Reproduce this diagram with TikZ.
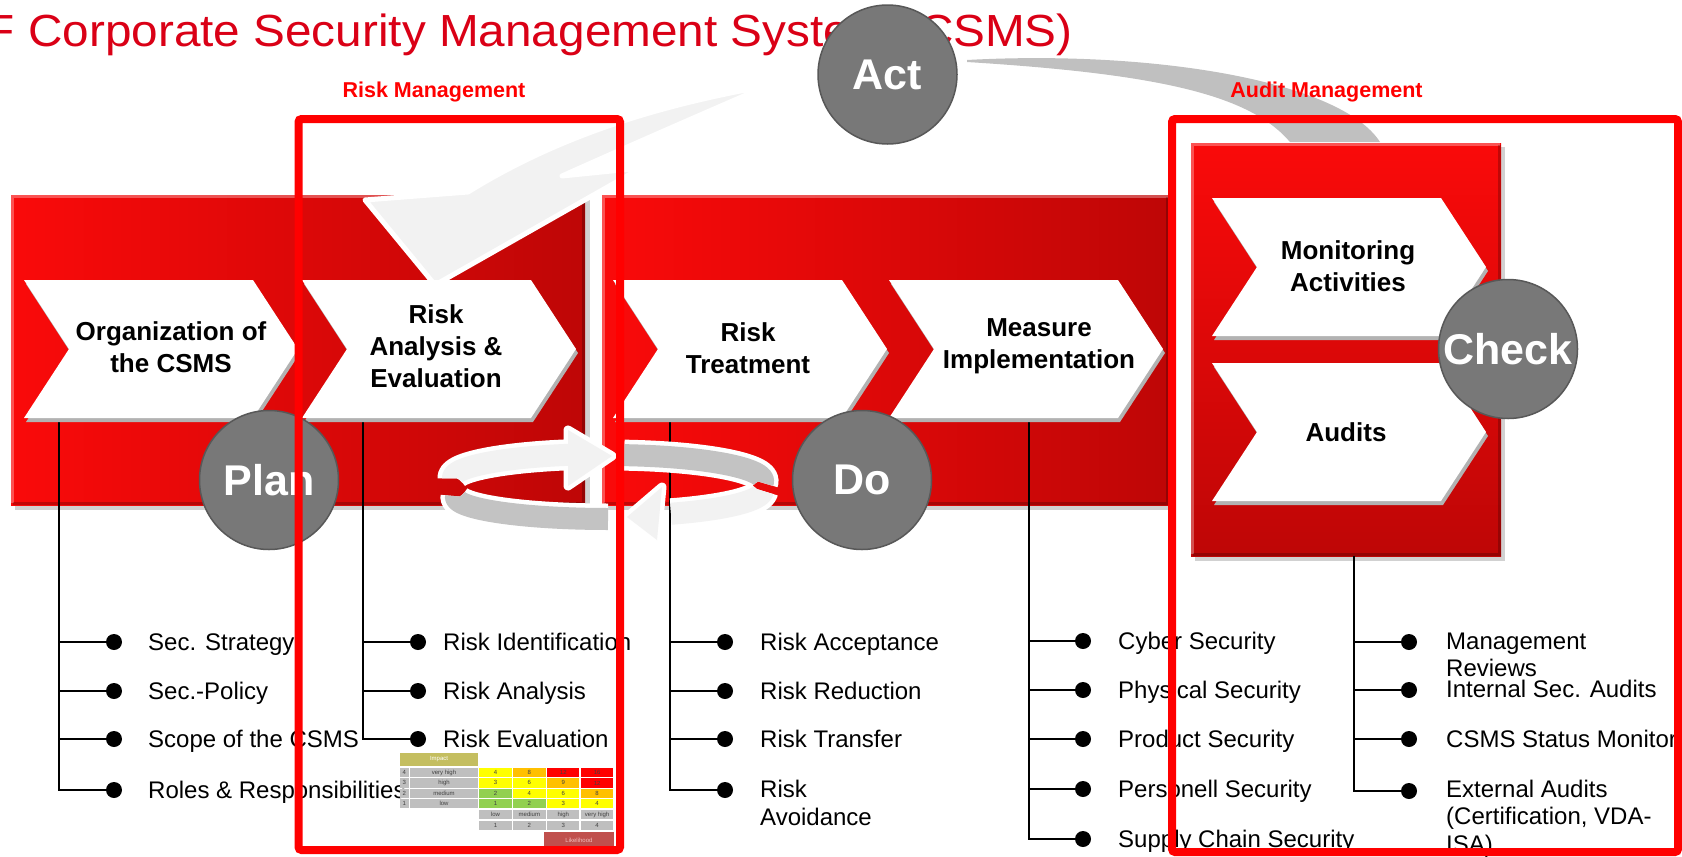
\documentclass[tikz,border=0pt]{standalone}
\usepackage{fontspec}
\setmainfont{Liberation Sans}
\definecolor{bandL}{RGB}{250,10,10}
\definecolor{bandR}{RGB}{190,6,6}
\definecolor{titlered}{RGB}{218,0,22}
\definecolor{circgray}{RGB}{120,120,120}
\definecolor{circdark}{RGB}{88,88,88}
\definecolor{ringgray}{RGB}{195,195,195}
\definecolor{ringlight}{RGB}{242,242,242}
\definecolor{arcgray}{RGB}{192,192,192}
\definecolor{mY}{RGB}{255,255,0}
\definecolor{mO}{RGB}{255,192,0}
\definecolor{mR}{RGB}{255,0,0}
\definecolor{mG}{RGB}{146,208,80}
\definecolor{mGr}{RGB}{191,191,191}
\definecolor{impol}{RGB}{196,190,96}
\definecolor{likered}{RGB}{192,80,77}
\definecolor{liketxt}{RGB}{240,190,190}
\begin{document}
\begin{tikzpicture}[x=1pt,y=-1pt,
  listtxt/.style={anchor=base west, inner sep=0pt, font=\fontsize{24}{26}\selectfont},
  dotn/.style={circle, fill=black, inner sep=0pt, minimum size=16pt},
  conn/.style={line width=2.8pt, black},
  chevtxt/.style={align=center, inner sep=0pt, font=\bfseries\fontsize{26}{32}\selectfont},
  pdca/.style={circle, fill=circgray, draw=circdark, line width=1.5pt, text=white, inner sep=0pt, minimum size=139pt, font=\bfseries\fontsize{43}{50}\selectfont},
  mgmtbox/.style={draw=red, line width=8pt, rounded corners=3pt},
  mgmtlbl/.style={anchor=base, inner sep=0pt, text=red, font=\bfseries\fontsize{21.5}{24}\selectfont},
  mtx/.style={inner sep=0pt, font=\fontsize{6}{7}\selectfont, text=black!75},
  bandshadow/.style={fill=black, opacity=0.18},
  bevelhi/.style={draw=white, opacity=0.3, line width=3pt},
  bevello/.style={draw=black, opacity=0.22, line width=3pt},
  chev/.pic={
    \fill[black!30] (2,4) -- (231,4) -- (276,73) -- (231,142) -- (2,142) -- (47,73) -- cycle;
    \fill[white] (0,0) -- (229,0) -- (274,69) -- (229,138) -- (0,138) -- (45,69) -- cycle;
  }
]
\useasboundingbox (0,0) rectangle (1682,857);
\fill[white] (0,0) rectangle (1682,857);

% big grey arc towards Check
\fill[arcgray] (967,60) .. controls (1150,50) and (1340,80) .. (1380,142) -- (1290,142) .. controls (1250,95) and (1160,74) .. (967,62) -- cycle;

% red bands
\fill[bandshadow] (15,199) rectangle (590,510);
\shade[left color=bandL, right color=bandR] (11,195) rectangle (585,505);
\draw[bevelhi] (12.5,503) -- (12.5,196.5) -- (583.5,196.5);
\draw[bevello] (583.5,196.5) -- (583.5,503.5) -- (12.5,503.5);
\fill[bandshadow] (606,199) rectangle (1173,510);
\shade[left color=bandL, right color=bandR] (602,195) rectangle (1169,505);
\draw[bevelhi] (603.5,503) -- (603.5,196.5) -- (1167.5,196.5);
\draw[bevello] (1167.5,196.5) -- (1167.5,503.5) -- (603.5,503.5);
\fill[bandshadow] (1195,147) rectangle (1505,561);
\shade[top color=bandL, bottom color=bandR] (1191,143) rectangle (1501,556);
\draw[bevelhi] (1192.5,554) -- (1192.5,144.5) -- (1499.5,144.5);
\draw[bevello] (1499.5,144.5) -- (1499.5,554.5) -- (1192.5,554.5);

% title
\node[anchor=base east, inner sep=0pt, text=titlered] (title) at (1073,46.5)
  {\scalebox{1.06}[1]{\fontsize{45}{54}\selectfont F Corporate Security Management System (CSMS)}};

% Act arrow (light)
\filldraw[fill=ringlight, draw=white, line width=5pt, line join=round]
  (365,200) -- (468,192) .. controls (560,135) and (660,105) .. (767,86)
  .. controls (700,115) and (620,150) .. (562,176) -- (641,168) -- (435,285) -- cycle;

% ---- list A
\coordinate (Atop) at (59,418);
\foreach \k/\yy/\tx in {1/642/Sec. Strategy,2/691/Sec.-Policy,3/739/Scope of the CSMS,4/790/Roles \& Responsibilities}{
  \node[listtxt] (A\k t) at (148,\yy+8.5) {\tx};
}
\foreach \k/\yy in {1/642,2/691,3/739}{\coordinate (A\k j) at (59,\yy);}
\foreach \k/\yy in {1/642,2/691,3/739,4/790}{\node[dotn] (A\k) at (114,\yy) {};}
\draw[conn] (Atop) |- (A4);
\foreach \k in {1,2,3}{\draw[conn] (A\k j) -- (A\k);}

% ---- list B
\coordinate (Btop) at (363,418);
\foreach \k/\yy/\tx in {1/642/Risk Identification,2/691/Risk Analysis,3/739/Risk Evaluation}{
  \node[listtxt] (B\k t) at (443,\yy+8.5) {\tx};
}
\foreach \k/\yy in {1/642,2/691}{\coordinate (B\k j) at (363,\yy);}
\foreach \k/\yy in {1/642,2/691,3/739}{\node[dotn] (B\k) at (418,\yy) {};}
\draw[conn] (Btop) |- (B3);
\foreach \k in {1,2}{\draw[conn] (B\k j) -- (B\k);}

% ---- list C
\coordinate (Ctop) at (670,418);
\foreach \k/\yy/\tx in {1/642/Risk Acceptance,2/691/Risk Reduction,3/739/Risk Transfer,4/789/Risk}{
  \node[listtxt] (C\k t) at (760,\yy+8.5) {\tx};
}
\node[listtxt] (C4u) at (760,825) {Avoidance};
\foreach \k/\yy in {1/642,2/691,3/739}{\coordinate (C\k j) at (670,\yy);}
\foreach \k/\yy in {1/642,2/691,3/739,4/790}{\node[dotn] (C\k) at (725,\yy) {};}
\draw[conn] (Ctop) |- (C4);
\foreach \k in {1,2,3}{\draw[conn] (C\k j) -- (C\k);}

% ---- list D
\coordinate (Dtop) at (1029,418);
\foreach \k/\yy/\tx in {1/641/Cyber Security,2/690/Physical Security,3/739/Product Security,4/789/Personell Security,5/839/Supply Chain Security}{
  \node[listtxt] (D\k t) at (1118,\yy+8.5) {\tx};
}
\foreach \k/\yy in {1/641,2/690,3/739,4/789}{\coordinate (D\k j) at (1029,\yy);}
\foreach \k/\yy in {1/641,2/690,3/739,4/789,5/839}{\node[dotn] (D\k) at (1083,\yy) {};}
\draw[conn] (Dtop) |- (D5);
\foreach \k in {1,2,3,4}{\draw[conn] (D\k j) -- (D\k);}

% ---- list E
\coordinate (Etop) at (1354,556);
\node[listtxt] (E1t) at (1446,649) {Management};
\node[listtxt] (E1u) at (1446,676) {Reviews};
\node[listtxt] (E2t) at (1446,697) {Internal Sec. Audits};
\node[listtxt] (E3t) at (1446,747) {CSMS Status Monitor};
\node[listtxt] (E4t) at (1446,797) {External Audits};
\node[listtxt] (E4u) at (1446,824) {(Certification, VDA-};
\node[listtxt] (E4v) at (1446,852) {ISA)};
\foreach \k/\yy in {1/642,2/690,3/739}{\coordinate (E\k j) at (1354,\yy);}
\foreach \k/\yy in {1/642,2/690,3/739,4/791}{\node[dotn] (E\k) at (1409,\yy) {};}
\draw[conn] (Etop) |- (E4);
\foreach \k in {1,2,3}{\draw[conn] (E\k j) -- (E\k);}

% ---- chevrons
\pic (c1) at (24,280) {chev};
\pic (c2) at (302,280) {chev};
\pic (c3) at (613,280) {chev};
\pic (c4) at (889,280) {chev};
\pic (c5) at (1212,198) {chev};
\pic (c6) at (1212,363) {chev};
\node[chevtxt] (orgT) at (171,347) {Organization of\\the CSMS};
\node[chevtxt] (raeT) at (436,346) {Risk\\Analysis \&\\Evaluation};
\node[chevtxt] (rtT) at (748,348) {Risk\\Treatment};
\node[chevtxt] (miT) at (1039,346) {Measure\\Implementation};
\node[chevtxt] (maT) at (1348,266) {Monitoring\\Activities};
\node[chevtxt] (auT) at (1346,432) {Audits};

% ---- ring of arrows
\draw[white,line width=31pt] plot[domain=84:-4,samples=40] ({608+155*cos(\x)},{481-26*sin(\x)});
\draw[ringgray,line width=22pt] plot[domain=84:-4,samples=40] ({608+155*cos(\x)},{481-26*sin(\x)});
\draw[white,line width=31pt] plot[domain=178:270,samples=40] ({608+152*cos(\x)},{497-22*sin(\x)});
\draw[ringgray,line width=22pt] plot[domain=178:270,samples=40] ({608+152*cos(\x)},{497-22*sin(\x)});
\draw[white,line width=31pt] plot[domain=181:104,samples=40] ({608+155*cos(\x)},{478-24*sin(\x)});
\filldraw[white,line width=9pt,line join=round] (568,430) -- (612,456) -- (568,486) -- cycle;
\draw[ringlight,line width=22pt] plot[domain=181:104,samples=40] ({608+155*cos(\x)},{478-24*sin(\x)});
\fill[ringlight] (568,430) -- (612,456) -- (568,486) -- cycle;
\draw[white,line width=31pt] plot[domain=-2:-66,samples=40] ({608+155*cos(\x)},{490-26*sin(\x)});
\filldraw[white,line width=9pt,line join=round] (662,487) -- (627,517) -- (657,540) -- cycle;
\draw[ringlight,line width=22pt] plot[domain=-2:-66,samples=40] ({608+155*cos(\x)},{490-26*sin(\x)});
\fill[ringlight] (662,487) -- (627,517) -- (657,540) -- cycle;

% ---- PDCA circles
\node[pdca] (act) at (887.5,74.5) {Act};
\node[pdca] (plan) at (269,480) {Plan};
\node[pdca] (do) at (862,480) {Do};
\node[pdca] (check) at (1508,349) {Check};

% ---- risk matrix
\fill[impol] (400,753) rectangle (478,766);
\node[mtx, text=white] (mImp) at (439,759.5) {Impact};
\foreach \ri/\lb/\yy in {4/very high/768,3/high/778.3,2/medium/788.6,1/low/798.9}{
  \fill[mGr] (400,\yy) rectangle (408.5,\yy+9.2);
  \node[mtx] (mn\ri) at (404.2,\yy+4.6) {\ri};
  \fill[mGr] (410,\yy) rectangle (478,\yy+9.2);
  \node[mtx] (ml\ri) at (444,\yy+4.6) {\lb};
}
\foreach \ri/\ci/\vv/\colr in {4/1/4/mY,4/2/8/mO,4/3/12/mR,4/4/16/mR,
  3/1/3/mY,3/2/6/mY,3/3/9/mO,3/4/12/mR,
  2/1/2/mG,2/2/4/mY,2/3/6/mY,2/4/8/mO,
  1/1/1/mG,1/2/2/mG,1/3/3/mY,1/4/4/mY}{
  \pgfmathsetmacro{\xa}{479.3+(\ci-1)*33.9}
  \pgfmathsetmacro{\ya}{768+(4-\ri)*10.3}
  \fill[\colr] (\xa,\ya) rectangle (\xa+32.3,\ya+9.2);
  \node[mtx] (mc\ri\ci) at (\xa+16.15,\ya+4.6) {\vv};
}
\foreach \ci/\lb in {1/low,2/medium,3/high,4/very high}{
  \pgfmathsetmacro{\xa}{479.3+(\ci-1)*33.9}
  \fill[mGr] (\xa,810) rectangle (\xa+32.3,819.4);
  \node[mtx] (mx\ci) at (\xa+16.15,814.7) {\lb};
  \fill[mGr] (\xa,820.8) rectangle (\xa+32.3,830.2);
  \node[mtx] (mk\ci) at (\xa+16.15,825.5) {\ci};
}
\fill[likered] (544,832) rectangle (614,848);
\node[mtx, text=liketxt] (mLike) at (579,840) {Likelihood};

% ---- management boxes
\draw[mgmtbox] (298.5,119) rectangle (620,850);
\draw[mgmtbox] (1172,119) rectangle (1678,852);
\node[mgmtlbl] (rmL) at (434,97) {Risk Management};
\node[mgmtlbl] (amL) at (1326.5,97.3) {Audit Management};
\end{tikzpicture}
\end{document}
